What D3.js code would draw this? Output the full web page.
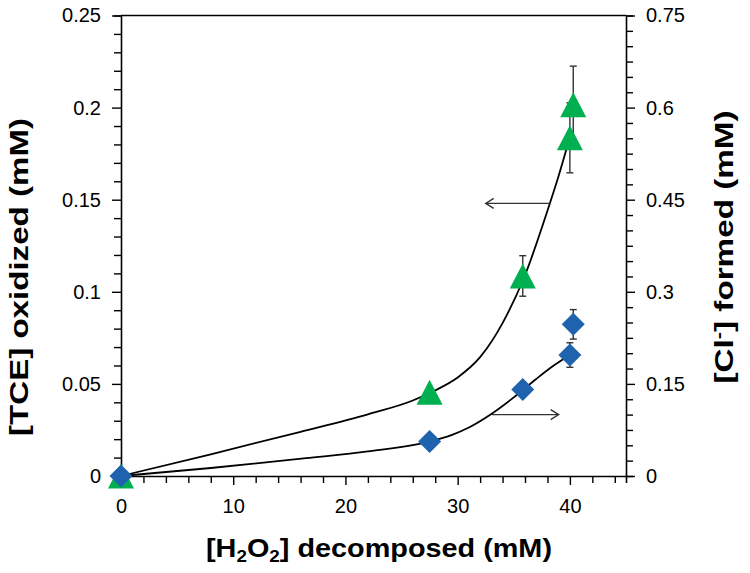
<!DOCTYPE html>
<html><head><meta charset="utf-8">
<script src="https://cdn.jsdelivr.net/npm/d3@7"></script>
<style>body{margin:0;background:#fff}svg{display:block}</style>
</head><body>
<svg id="chart" width="750" height="573"></svg>
<script>
// ---- data ----
const h2o2X      = [0, 27.5, 35.8, 40.0, 40.3];        // [H2O2] decomposed (mM)
const tceY       = [0, 0.0455, 0.1086, 0.1836, 0.2015]; // [TCE] oxidized (mM), left axis
const tceErr     = [0, 0, 0.011, 0.019, 0.021];
const clY        = [0, 0.056, 0.141, 0.197, 0.247];    // [Cl-] formed (mM), right axis
const clErr      = [0, 0, 0, 0.02, 0.024];

const tceFitX = [0, 8, 16, 22, 26, 28, 30, 32, 34, 36, 38, 39, 40];
const tceFitY = [0, 0.0118, 0.024, 0.0335, 0.041, 0.0465, 0.0535, 0.0645, 0.083, 0.109, 0.144, 0.163, 0.184];
const clFitX  = [0, 8, 16.5, 22, 27.5, 29.5, 31, 33, 35, 37, 38.5, 40];
const clFitY  = [0, 0.013, 0.029, 0.040, 0.056, 0.067, 0.079, 0.101, 0.128, 0.158, 0.179, 0.197];

const xTicksMajor = [0, 10, 20, 30, 40];
const yLeftTicks  = [0, 0.05, 0.1, 0.15, 0.2, 0.25];
const yRightTicks = [0, 0.15, 0.3, 0.45, 0.6, 0.75];
const arrowTce = {x1: 38.2, x2: 32.5, y: 0.148};  // points left
const arrowCl  = {x1: 33.05, x2: 39.0, y: 0.1};  // points right

// ---- layout ----
const L = 121, R = 626, T = 15.5, B = 476;
const svg = d3.select('#chart');
const x  = d3.scaleLinear().domain([0, 45]).range([L, R]);
const yL = d3.scaleLinear().domain([0, 0.25]).range([B, T]);
const yR = d3.scaleLinear().domain([0, 0.75]).range([B, T]);

const green = '#00b050', blue = '#1f63ae';
const font = "'Liberation Sans', Arial, Helvetica, sans-serif";

// frame
const frame = svg.append('g').attr('stroke', '#000').attr('stroke-width', 1.6).attr('fill', 'none');
frame.append('line').attr('x1', L).attr('x2', R).attr('y1', T).attr('y2', T);

// axes
const fmt = d => d3.format('~g')(d);
const axB = svg.append('g').attr('transform', `translate(0,${B})`)
  .call(d3.axisBottom(x).tickValues(d3.range(0, 45, 2)).tickSizeOuter(0)
    .tickSize(7).tickFormat(d => xTicksMajor.includes(d) ? d : ''));
const axL = svg.append('g').attr('transform', `translate(${L},0)`)
  .call(d3.axisLeft(yL).tickValues(d3.range(0, 0.2501, 0.01)).tickSizeOuter(0)
    .tickSize(7).tickFormat(d => yLeftTicks.some(v => Math.abs(v - d) < 1e-6) ? fmt(d) : ''));
const axR = svg.append('g').attr('transform', `translate(${R},0)`)
  .call(d3.axisRight(yR).tickValues(d3.range(0, 0.7501, 0.025)).tickSizeOuter(0)
    .tickSize(7).tickFormat(d => yRightTicks.some(v => Math.abs(v - d) < 1e-6) ? fmt(d) : ''));

[axB, axL, axR].forEach(g => {
  g.select('.domain').attr('stroke-width', 1.6);
  g.selectAll('.tick line').attr('stroke-width', 1.4);
  g.selectAll('.tick text').attr('font-family', font).attr('font-size', 20).attr('fill', '#000');
});
axB.selectAll('.tick').filter(d => xTicksMajor.includes(d)).select('line').attr('y2', 9);
axL.selectAll('.tick').filter(d => yLeftTicks.some(v => Math.abs(v - d) < 1e-6)).select('line').attr('x2', -9);
axR.selectAll('.tick').filter(d => yRightTicks.some(v => Math.abs(v - d) < 1e-6)).select('line').attr('x2', 9);
axB.selectAll('.tick text').attr('dy', '0.71em').attr('y', 23);
axL.selectAll('.tick text').attr('x', -20);
axR.selectAll('.tick text').attr('x', 20);

// fit curves
const lineL = d3.line().x(d => x(d[0])).y(d => yL(d[1])).curve(d3.curveMonotoneX);
const lineR = d3.line().x(d => x(d[0])).y(d => yR(d[1])).curve(d3.curveMonotoneX);
svg.append('path').datum(d3.zip(tceFitX, tceFitY)).attr('d', lineL)
  .attr('fill', 'none').attr('stroke', '#000').attr('stroke-width', 1.8);
svg.append('path').datum(d3.zip(clFitX, clFitY)).attr('d', lineR)
  .attr('fill', 'none').attr('stroke', '#000').attr('stroke-width', 1.8);

// arrows
function arrow(a, ys) {
  const g = svg.append('g').attr('stroke', '#333').attr('stroke-width', 1.4).attr('fill', 'none');
  const X1 = x(a.x1), X2 = x(a.x2), Y = ys(a.y);
  const dir = X2 > X1 ? -1 : 1;
  g.append('line').attr('x1', X1).attr('x2', X2).attr('y1', Y).attr('y2', Y);
  g.append('path').attr('d', `M${X2 + dir * 8},${Y - 5}L${X2},${Y}L${X2 + dir * 8},${Y + 5}`);
}
arrow(arrowTce, yL);
arrow(arrowCl, yR);

// error bars
function errBars(ys, vals, errs) {
  const g = svg.append('g').attr('stroke', '#333').attr('stroke-width', 1.4);
  h2o2X.forEach((xv, i) => {
    if (!errs[i]) return;
    const X = x(xv), y1 = ys(vals[i] - errs[i]), y2 = ys(vals[i] + errs[i]);
    g.append('line').attr('x1', X).attr('x2', X).attr('y1', y1).attr('y2', y2);
    g.append('line').attr('x1', X - 3.5).attr('x2', X + 3.5).attr('y1', y1).attr('y2', y1);
    g.append('line').attr('x1', X - 3.5).attr('x2', X + 3.5).attr('y1', y2).attr('y2', y2);
  });
}
errBars(yL, tceY, tceErr);
errBars(yR, clY, clErr);

// markers
const tri = 'M0,-12.5L13,12.5L-13,12.5Z';
const dia = 'M0,-11.5L11.5,0L0,11.5L-11.5,0Z';
svg.append('g').selectAll('path').data(d3.zip(h2o2X, tceY)).join('path')
  .attr('d', tri).attr('fill', green)
  .attr('transform', d => `translate(${x(d[0])},${yL(d[1])})`);
svg.append('g').selectAll('path').data(d3.zip(h2o2X, clY)).join('path')
  .attr('d', dia).attr('fill', blue)
  .attr('transform', d => `translate(${x(d[0])},${yR(d[1])})`);

// titles
const tb = svg.append('text').attr('x', 379).attr('y', 557).attr('text-anchor', 'middle')
  .attr('font-family', font).attr('font-weight', 'bold').attr('font-size', 26)
  .attr('textLength', 346).attr('lengthAdjust', 'spacingAndGlyphs');
tb.append('tspan').text('[H');
tb.append('tspan').attr('font-size', 17).attr('dy', 5).text('2');
tb.append('tspan').attr('dy', -5).text('O');
tb.append('tspan').attr('font-size', 17).attr('dy', 5).text('2');
tb.append('tspan').attr('dy', -5).text('] decomposed (mM)');

svg.append('text').attr('transform', 'translate(28,277) rotate(-90)').attr('text-anchor', 'middle')
  .attr('font-family', font).attr('font-weight', 'bold').attr('font-size', 26)
  .attr('textLength', 318).attr('lengthAdjust', 'spacingAndGlyphs')
  .text('[TCE] oxidized (mM)');

const tr = svg.append('text').attr('transform', 'translate(733,247) rotate(-90)').attr('text-anchor', 'middle')
  .attr('font-family', font).attr('font-weight', 'bold').attr('font-size', 26)
  .attr('textLength', 273).attr('lengthAdjust', 'spacingAndGlyphs');
tr.append('tspan').text('[Cl');
tr.append('tspan').attr('font-size', 17).attr('dy', -9).text('-');
tr.append('tspan').attr('dy', 9).text('] formed (mM)');
</script>
</body></html>
